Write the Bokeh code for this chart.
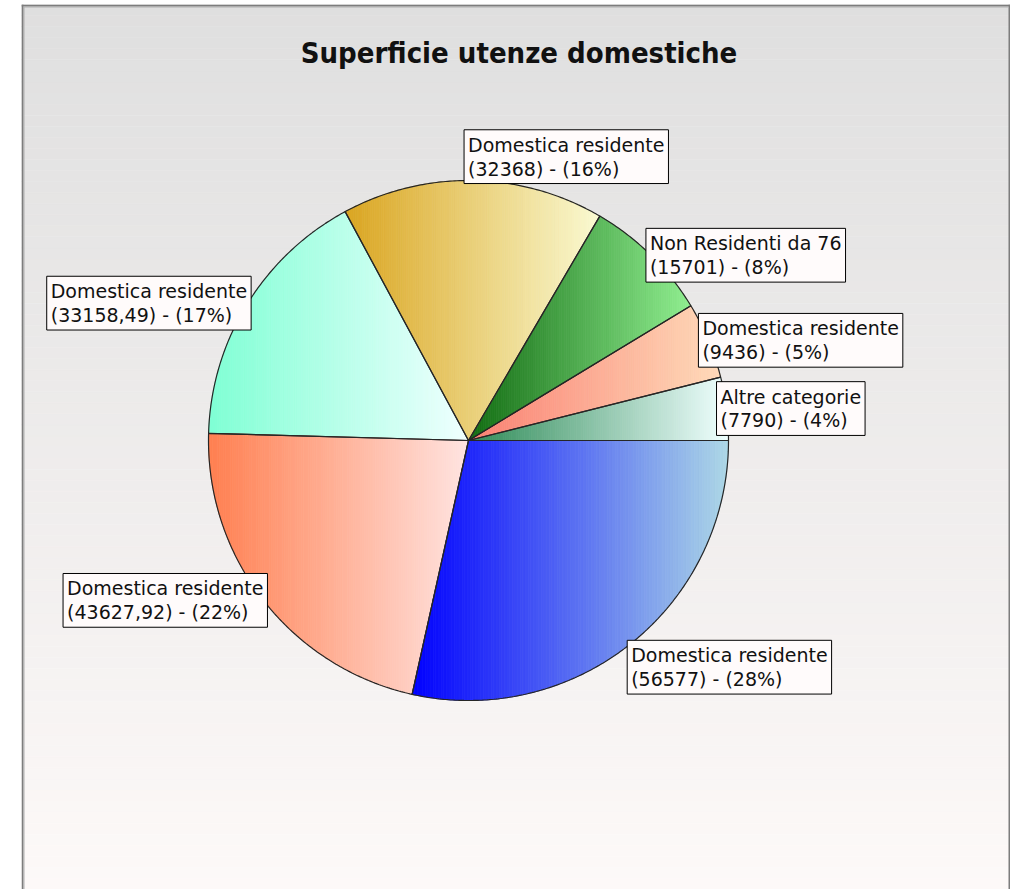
import numpy as np
from bokeh.plotting import figure
from bokeh.models import Range1d, Label
from bokeh.core.properties import value
from bokeh.embed import file_html
from bokeh.resources import INLINE

# ---------------- data ----------------
title = "Superficie utenze domestiche"
categories = ["Altre categorie", "Domestica residente", "Non Residenti da 76",
              "Domestica residente", "Domestica residente", "Domestica residente",
              "Domestica residente"]
values = [7790, 9436, 15701, 32368, 33158.49, 43627.92, 56577]
colors_start = ["#2e8b57", "#fa8072", "#126c12", "#daa520", "#7fffd4", "#ff7f50", "#0000ff"]
colors_end = ["#f0ffff", "#ffdab9", "#90ee90", "#fafad2", "#f0ffff", "#ffe4e1", "#add8e6"]

# ---------------- layout / style ----------------
X0, X1, Y0, Y1 = 21, 1010, 4, 889
CX, CY, R = 468, 440, 260
N_STRIPS = 120
# nudges of the label boxes (px); order follows the slices above
label_dx = [-10, -10, -5, -9, 4, 4, -4]
label_dy = [0, 0, 0, -3, 1, 0, 3]


def hex2rgb(h):
    h = h.lstrip("#")
    return np.array([int(h[i:i + 2], 16) for i in (0, 2, 4)], dtype=float)


def rgb2hex(c):
    c = np.clip(np.round(c), 0, 255).astype(int)
    return "#%02x%02x%02x" % tuple(c)


def mix(a, b, t):
    return rgb2hex(hex2rgb(a) * (1 - t) + hex2rgb(b) * t)


def fmt(v):
    if float(v).is_integer():
        return str(int(v))
    return ("%.2f" % v).replace(".", ",")


def intersect(p, q, x0):
    t = (x0 - p[0]) / (q[0] - p[0])
    return (x0, p[1] + t * (q[1] - p[1]))


def clip(poly, x0, keep_greater):
    out = []
    n = len(poly)
    for i in range(n):
        cur, prev = poly[i], poly[i - 1]
        cin = cur[0] >= x0 if keep_greater else cur[0] <= x0
        pin = prev[0] >= x0 if keep_greater else prev[0] <= x0
        if cin:
            if not pin:
                out.append(intersect(prev, cur, x0))
            out.append(cur)
        elif pin:
            out.append(intersect(prev, cur, x0))
    return out


p = figure(width=X1, height=Y1, x_range=Range1d(X0, X1), y_range=Range1d(Y1, Y0),
           min_border_left=X0, min_border_right=0, min_border_top=Y0, min_border_bottom=0,
           x_axis_location=None, y_axis_location=None, toolbar_location=None,
           output_backend="svg", outline_line_color=None,
           border_fill_color="white", background_fill_color="white")
p.grid.visible = False

# background gradient
nb = 80
edges = np.linspace(Y0, Y1, nb + 1)
bg_cols = [mix("#dfdfdf", "#fdf9f8", (i + 0.5) / nb) for i in range(nb)]
p.quad(left=X0, right=X1, top=edges[:-1], bottom=edges[1:], fill_color=bg_cols,
       line_color=bg_cols, line_width=0.5)

# frame border
p.quad(left=[X0, X0, X1 - 2], right=[X0 + 2, X1, X1], top=[Y0, Y0, Y0], bottom=[Y1, Y0 + 2, Y1],
       fill_color="#7d7d7d", line_color=None)
p.quad(left=[X0 + 2, X0 + 2], right=[X0 + 3, X1 - 2], top=[Y0 + 2, Y0 + 2], bottom=[Y1, Y0 + 3],
       fill_color="#b0b0b0", line_color=None)

# pie
vals = np.array(values, dtype=float)
total = vals.sum()
frac = vals / total
cum = np.concatenate([[0], np.cumsum(frac)]) * 2 * np.pi

strip_xs, strip_ys, strip_cols = [], [], []
out_xs, out_ys = [], []
for i in range(len(vals)):
    a0, a1 = cum[i], cum[i + 1]
    n = max(8, int((a1 - a0) / (2 * np.pi) * 720))
    th = np.linspace(a0, a1, n)
    poly = [(CX, CY)] + [(CX + R * np.cos(t), CY - R * np.sin(t)) for t in th]
    out_xs.append([q[0] for q in poly])
    out_ys.append([q[1] for q in poly])
    xs = [q[0] for q in poly]
    xmin, xmax = min(xs), max(xs)
    bounds = np.linspace(xmin, xmax, N_STRIPS + 1)
    for k in range(N_STRIPS):
        sp = clip(poly, bounds[k], True)
        if len(sp) < 3:
            continue
        sp = clip(sp, bounds[k + 1], False)
        if len(sp) < 3:
            continue
        c = mix(colors_start[i], colors_end[i], (k + 0.5) / N_STRIPS)
        strip_xs.append([q[0] for q in sp])
        strip_ys.append([q[1] for q in sp])
        strip_cols.append(c)

p.patches(xs=strip_xs, ys=strip_ys, fill_color=strip_cols, line_color=strip_cols, line_width=0.8)
p.patches(xs=out_xs, ys=out_ys, fill_color=None, line_color="#262626", line_width=1.2)

# title
p.text(x=[518.5], y=[52], text=[title], text_align="center", text_baseline="middle",
       text_font=value("DejaVu Sans Condensed"), text_font_style="bold", text_font_size="29px",
       text_color="#111111")

# labels
for i in range(len(vals)):
    mid = (cum[i] + cum[i + 1]) / 2
    px, py = CX + R * np.cos(mid), CY - R * np.sin(mid)
    s = np.sin(mid)
    right_side = np.cos(mid) >= 0
    if s > 0.95:
        vert = "bottom"
    elif s < -0.7:
        vert = "top"
    else:
        vert = "center"
    horiz = "left" if right_side else "right"
    anchor = "center_" + horiz if vert == "center" else vert + "_" + horiz
    pct = int(round(frac[i] * 100))
    txt = "%s\n(%s) - (%d%%)" % (categories[i], fmt(vals[i]), pct)
    lab = Label(x=px, y=py, x_offset=label_dx[i], y_offset=label_dy[i], text=txt,
                anchor=anchor, text_align="left",
                text_font="DejaVu Sans", text_font_size="19px", text_line_height=1.08,
                text_color="#111111",
                background_fill_color="#fffbfb", border_line_color="black", border_line_width=1,
                padding=4)
    p.add_layout(lab)

open("out.html", "w").write(file_html(p, INLINE))
